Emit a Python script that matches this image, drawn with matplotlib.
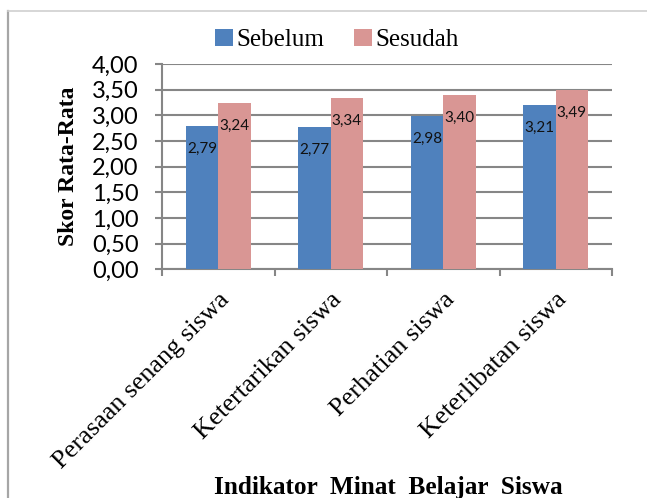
import numpy as np
import matplotlib
matplotlib.use("Agg")
import matplotlib.pyplot as plt
from matplotlib.lines import Line2D

categories = ["Perasaan senang siswa", "Ketertarikan siswa", "Perhatian siswa", "Keterlibatan siswa"]
sebelum = [2.79, 2.77, 2.98, 3.21]
sesudah = [3.24, 3.34, 3.40, 3.49]
series_names = ["Sebelum", "Sesudah"]
y_ticks = [0.0, 0.5, 1.0, 1.5, 2.0, 2.5, 3.0, 3.5, 4.0]

blue = "#4F81BD"
pink = "#D99694"
grid_gray = "#868686"
serif = "Liberation Serif"
sans = "Lato"

fig = plt.figure(figsize=(6.47, 4.98), dpi=100)
ax = fig.add_axes([162 / 647, 1 - 269.5 / 498, 450 / 647, 205.5 / 498])

x = np.arange(len(categories))
w = 0.287
b1 = ax.bar(x - w / 2, sebelum, w, color=blue, zorder=3, label=series_names[0])
b2 = ax.bar(x + w / 2, sesudah, w, color=pink, zorder=3, label=series_names[1])

# data labels sit just inside the top of each bar
for bars, vals in ((b1, sebelum), (b2, sesudah)):
    for rect, v in zip(bars, vals):
        ax.annotate(f"{v:.2f}".replace(".", ","),
                    (rect.get_x() + rect.get_width() / 2, v),
                    xytext=(0, -16.5), textcoords="offset points",
                    ha="center", va="center", fontsize=11,
                    family=sans, color="#111111", zorder=4)

ax.set_xlim(-0.5, 3.5)
ax.set_ylim(0, 4.0)
ax.set_yticks(y_ticks)
ax.set_yticklabels([f"{t:.2f}".replace(".", ",") for t in y_ticks],
                   family=sans, fontsize=17)
ax.yaxis.grid(True, color=grid_gray, linewidth=1.5, zorder=0)
ax.set_axisbelow(True)

ax.set_xticks(x)
ax.set_xticklabels(categories, rotation=45, ha="right", rotation_mode="anchor",
                   family=serif, fontsize=19)
ax.tick_params(axis="x", length=0, pad=14)
ax.set_xticks(np.arange(-0.5, 4.0, 1.0), minor=True)
ax.tick_params(axis="x", which="minor", length=5, width=1.5, color=grid_gray)
ax.tick_params(axis="y", length=5, width=1.5, color=grid_gray, pad=12)

for s in ("top", "right"):
    ax.spines[s].set_visible(False)
for s in ("left", "bottom"):
    ax.spines[s].set_color(grid_gray)
    ax.spines[s].set_linewidth(1.5)

ax.set_ylabel("Skor Rata-Rata", family=serif, fontweight="bold", fontsize=17, labelpad=9)
fig.text(388 / 647, 1 - 487 / 498, "Indikator  Minat  Belajar  Siswa",
         family=serif, fontweight="bold", fontsize=18.2, ha="center", va="center")

fig.legend(handles=[b1, b2], labels=series_names, loc="center",
           bbox_to_anchor=(337 / 647, 1 - 40 / 498), ncol=2, frameon=False,
           prop={"family": serif, "size": 18}, handlelength=0.7, handleheight=0.7,
           handletextpad=0.15, columnspacing=1.2)

# chart frame
fig.add_artist(Line2D([8 / 647, 8 / 647], [0, 1 - 11 / 498], transform=fig.transFigure,
                      color="#A6A6A6", linewidth=1.6))
fig.add_artist(Line2D([8 / 647, 1], [1 - 11 / 498, 1 - 11 / 498], transform=fig.transFigure,
                      color="#D0D0D0", linewidth=1.2))

fig.savefig("out.png", dpi=100)
